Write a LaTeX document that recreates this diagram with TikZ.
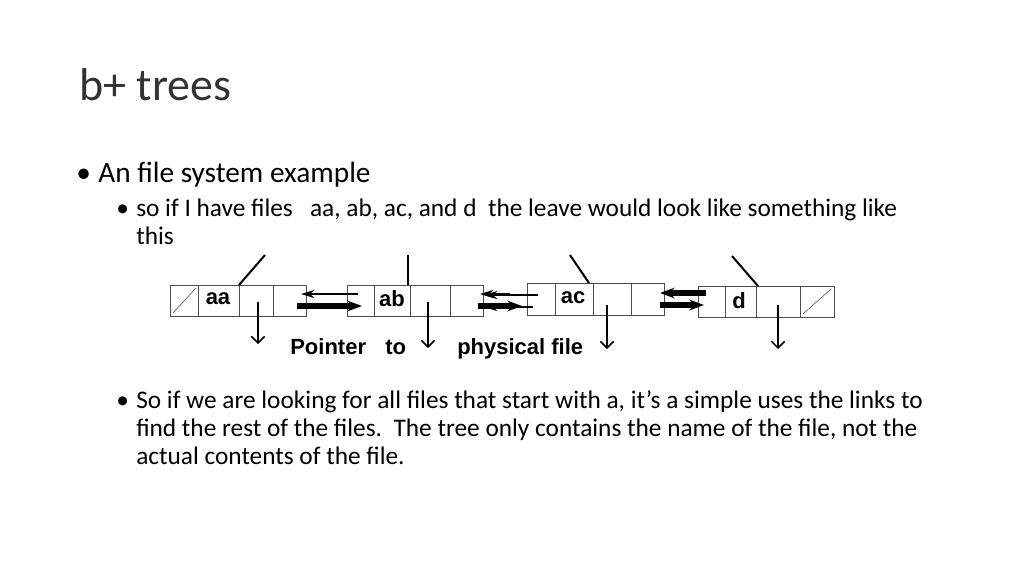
\documentclass[tikz,border=0pt]{standalone}
\usepackage{fontspec}
\setmainfont{Carlito}
\newfontfamily\arialb{Liberation Sans}
\usetikzlibrary{arrows.meta}
\begin{document}
\begin{tikzpicture}[x=0.75pt,y=-0.75pt,
  cell/.style={draw=black!70,line width=0.6pt},
  lbl/.style={font=\arialb\bfseries\fontsize{16.5}{19}\selectfont,inner sep=0},
  txt/.style={anchor=base west,inner sep=0},
  thinarr/.style={-{Stealth[length=10pt,width=6pt]},line width=2.2pt},
  thickarr/.style={-{Stealth[length=11pt,width=8pt]},line width=3.8pt},
  ptr/.style={-{Straight Barb[length=5pt,width=10pt]},line width=1.1pt}]
\useasboundingbox (0,0) rectangle (1024,576);
\fill[white] (0,0) rectangle (1024,576);
\node[txt,font=\fontsize{34.5}{40}\selectfont,text=black!80] (title) at (79,100) {b+ trees};
\node[txt,font=\fontsize{22}{26}\selectfont] (b1) at (76,182) {\textbullet};
\node[txt,font=\fontsize{22}{26}\selectfont] (t1) at (98,182) {An file system example};
\node[txt,font=\fontsize{19}{21}\selectfont] (b2) at (116,216) {\textbullet};
\node[txt,font=\fontsize{19}{21}\selectfont] (t2) at (136,216) {so if I have files\ \ \ aa, ab, ac, and d\ \ the leave would look like something like};
\node[txt,font=\fontsize{19}{21}\selectfont] (t3) at (136,244) {this};
\node[txt,font=\fontsize{19}{21}\selectfont] (b3) at (116,408) {\textbullet};
\node[txt,font=\fontsize{19}{21}\selectfont] (t4) at (136,408) {So if we are looking for all files that start with a, it{\char"0027}s a simple uses the links to};
\node[txt,font=\fontsize{19}{21}\selectfont] (t5) at (136,436) {find the rest of the files.\ \ The tree only contains the name of the file, not the};
\node[txt,font=\fontsize{19}{21}\selectfont] (t6) at (136,464) {actual contents of the file.};
% node 1
\draw[cell] (170,285) rectangle (306,316);
\draw[cell] (198,285)--(198,316) (239,285)--(239,316) (273,285)--(273,316);
\draw[black!70] (173,313)--(196,288);
\node[lbl] (aa) at (218,299) {aa};
% node 2
\draw[cell] (347,285) rectangle (483,316);
\draw[cell] (374,285)--(374,316) (410,285)--(410,316) (450,285)--(450,316);
\node[lbl] (ab) at (392,299) {ab};
% node 3
\draw[cell] (527,283) rectangle (664,315);
\draw[cell] (555,283)--(555,315) (593,283)--(593,315) (631,283)--(631,315);
\node[lbl] (ac) at (573,298) {ac};
% node 4
\draw[cell] (698,286) rectangle (834,317);
\draw[cell] (725,286)--(725,317) (756,286)--(756,317) (800,286)--(800,317);
\draw[black!70] (803,314)--(831,289);
\node[lbl] (d) at (739,301) {d};
% parent links
\draw[line width=1.5pt] (239,285)--(265,255);
\draw[line width=1.5pt] (408,285)--(408,255);
\draw[line width=1.5pt] (589,283)--(570,255);
\draw[line width=1.5pt] (758,286)--(732,256);
% sibling links
\draw[thinarr] (358,294)--(301,294);
\draw[thickarr] (297,306)--(362,306);
\draw[thinarr] (510,294)--(480,294);
\draw[thickarr] (478,306)--(522,306);
\draw[thinarr] (538,295)--(484,295);
\draw[thinarr] (533,307)--(484,307);
\draw[thickarr] (706,293)--(660,293);
\draw[thickarr] (660,305)--(704,305);
% pointers
\draw[ptr] (258,302)--(258,344);
\draw[ptr] (428,302)--(428,348);
\draw[ptr] (607,305)--(607,349);
\draw[ptr] (778,305)--(778,349);
\node[lbl,anchor=base west] (p1) at (290,354) {Pointer};
\node[lbl,anchor=base west] (p2) at (385,354) {to};
\node[lbl,anchor=base west] (p3) at (457,354) {physical file};
\end{tikzpicture}
\end{document}
